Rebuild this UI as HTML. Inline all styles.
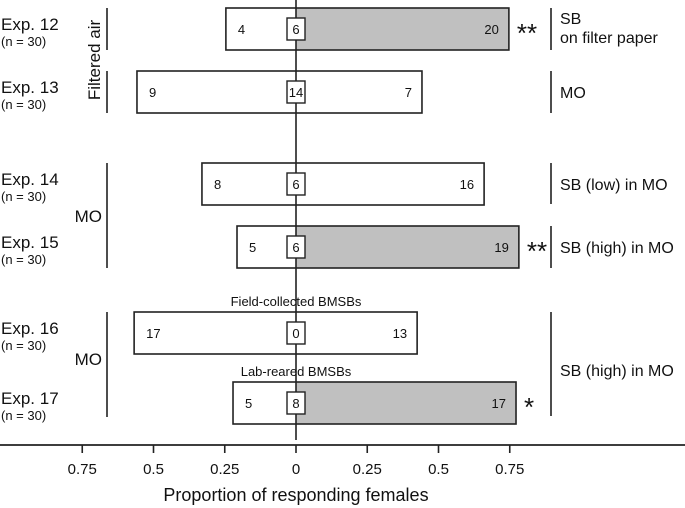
<!DOCTYPE html>
<html><head><meta charset="utf-8"><style>
body{margin:0;background:#fff}
svg{display:block;font-family:"Liberation Sans",Arial,sans-serif}
</style></head><body>
<svg id="chart" width="685" height="508"></svg>
<script>
const experiments = ["Exp. 12","Exp. 13","Exp. 14","Exp. 15","Exp. 16","Exp. 17"];
const leftProp = [0.246,0.558,0.33,0.207,0.568,0.221];
const rightProp = [0.747,0.442,0.66,0.782,0.425,0.772];
const leftCount = [4,9,8,5,17,5];
const rightCount = [20,7,16,19,13,17];
const noChoice = [6,14,6,6,0,8];
const shaded = [true,false,false,true,false,true];
const stars = ["**","","","**","","*"];
const tickValues = [-0.75,-0.5,-0.25,0,0.25,0.5,0.75];
const tickLabels = ["0.75","0.5","0.25","0","0.25","0.5","0.75"];

const NS="http://www.w3.org/2000/svg";
const svg=document.getElementById('chart');
const X0=296, SC=285;
const xs=v=>X0+v*SC;
const rowTop=[8,71,163,226,312,382];
const BH=42;
function mk(tag,attrs,parent){const e=document.createElementNS(NS,tag);for(const k in attrs)e.setAttribute(k,attrs[k]);(parent||svg).appendChild(e);return e;}
function txt(x,y,s,size,anchor,parent){const t=mk('text',{x:x,y:y,'font-size':size,'text-anchor':anchor||'start',fill:'#111'},parent);t.textContent=s;return t;}

// bars
experiments.forEach((name,i)=>{
  const g=mk('g',{});
  
  
  const y=rowTop[i];
  const l=xs(-leftProp[i]), r=xs(rightProp[i]);
  if(shaded[i]){const sh=mk('rect',{x:X0,y:y,width:r-X0,height:BH,fill:'#c0c0c0'},g);}
  const b=mk('rect',{x:l,y:y,width:r-l,height:BH,fill:'none',stroke:'#222','stroke-width':1.6},g);
  
  
  txt(l+12,y+26,String(leftCount[i]),13,'start',g);
  txt(r-10,y+26,String(rightCount[i]),13,'end',g);
  if(stars[i]){const s=txt(r+8,y+34,stars[i],26,'start',g);}
  // label
  const lb=txt(1,y+22,name,17,'start',g);
  
  
  txt(1,y+38,"(n = 30)",13,'start',g);
});
// center line
const cl=mk('line',{x1:X0,y1:0,x2:X0,y2:440,stroke:'#222','stroke-width':1.6});


experiments.forEach((n,i)=>{
  const y=rowTop[i]+10;
  const bx=mk('rect',{x:X0-9,y:y,width:18,height:22,fill:'#fff',stroke:'#222','stroke-width':1.4});
  
  
  txt(X0,y+16,String(noChoice[i]),13,'middle');
});
// group brackets
function vline(x,y1,y2,name){const l=mk('line',{x1:x,y1:y1,x2:x,y2:y2,stroke:'#222','stroke-width':1.6});}
vline(107,8,50,'left-bracket-12');vline(107,71,113,'left-bracket-13');
vline(107,163,268,'left-bracket-mo-1');vline(107,312,417,'left-bracket-mo-2');
const fa=txt(0,0,"Filtered air",17,'middle');fa.setAttribute('transform','translate(100,60) rotate(-90)');


txt(102,222,"MO",17,'end');txt(102,365,"MO",17,'end');
vline(551,8,50,'right-bracket-12');vline(551,71,113,'right-bracket-13');
vline(551,163,204,'right-bracket-14');vline(551,226,268,'right-bracket-15');
vline(551,312,416,'right-bracket-16-17');
txt(560,24,"SB",16);txt(560,43,"on filter paper",16);
txt(560,98,"MO",16);txt(560,190,"SB (low) in MO",16);txt(560,253,"SB (high) in MO",16);
txt(560,376,"SB (high) in MO",16);
txt(X0,306,"Field-collected BMSBs",13,'middle');
txt(X0,376,"Lab-reared BMSBs",13,'middle');
// axis
const ax=mk('line',{x1:0,y1:445,x2:685,y2:445,stroke:'#222','stroke-width':1.8});


tickValues.forEach((v,i)=>{
  mk('line',{x1:xs(v),y1:445,x2:xs(v),y2:453,stroke:'#222','stroke-width':1.6});
  const t=txt(xs(v),474,tickLabels[i],15,'middle');
  
  
});
const at=txt(296,501,"Proportion of responding females",18,'middle');


</script>
</body></html>
